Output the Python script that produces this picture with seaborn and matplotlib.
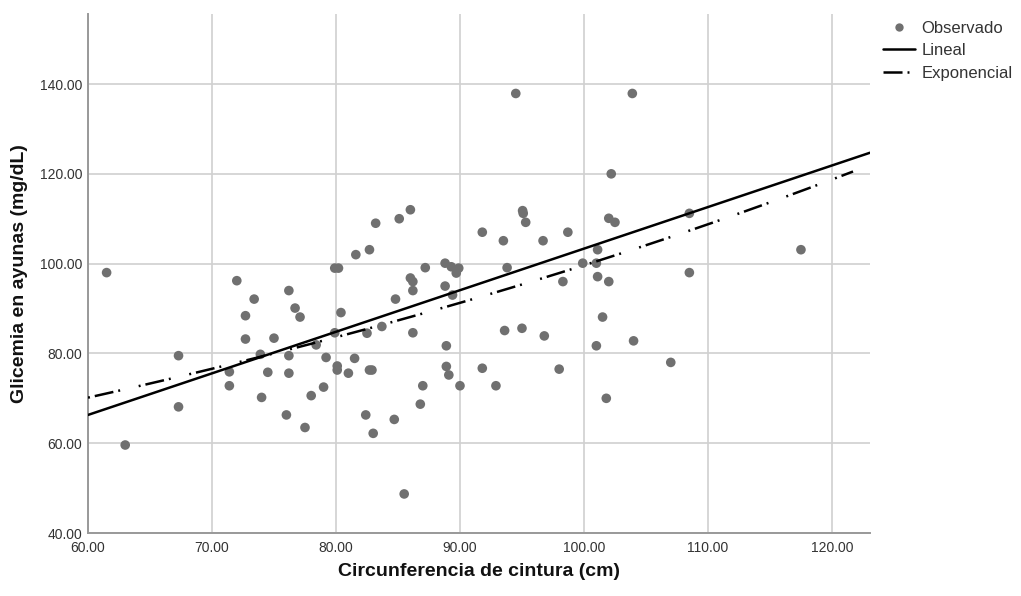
import numpy as np
import pandas as pd
import seaborn as sns
import matplotlib.pyplot as plt
from matplotlib.lines import Line2D

# waist circumference (cm) and fasting glucose (mg/dL)
cintura = [61.5, 63.0, 67.3, 67.3, 71.4, 71.4, 72.0, 72.7, 72.7, 73.4,
           73.9, 74.0, 74.5, 75.0, 76.0, 76.2, 76.2, 76.2, 76.7, 77.1,
           77.5, 78.0, 78.4, 79.0, 79.2, 79.9, 80.2, 79.9, 80.1, 80.1,
           80.4, 81.0, 81.5, 81.6, 82.4, 82.5, 82.7, 82.7, 82.9, 83.0,
           83.2, 83.7, 84.7, 84.8, 85.1, 85.5, 86.0, 86.0, 86.2, 86.2,
           86.2, 86.8, 87.0, 87.2, 88.8, 88.8, 88.9, 88.9, 89.1, 89.3,
           89.9, 89.7, 89.4, 90.0, 91.8, 91.8, 92.9, 93.5, 93.6, 93.8,
           94.5, 95.0, 95.05, 95.1, 95.3, 96.7, 96.8, 98.0, 98.3, 98.7,
           99.9, 101.0, 101.1, 101.1, 101.0, 101.5, 101.8, 102.0, 102.0, 102.2,
           102.5, 103.9, 104.0, 107.0, 108.5, 108.5, 117.5]
glicemia = [98.0, 59.6, 79.5, 68.1, 75.9, 72.8, 96.2, 88.4, 83.2, 92.1,
            79.8, 70.2, 75.8, 83.4, 66.3, 94.0, 79.5, 75.6, 90.1, 88.1,
            63.5, 70.6, 81.9, 72.5, 79.1, 99.0, 99.0, 84.6, 77.2, 76.3,
            89.1, 75.6, 78.9, 102.0, 66.3, 84.5, 103.1, 76.3, 76.3, 62.2,
            109.0, 86.0, 65.3, 92.1, 110.0, 48.7, 112.0, 96.8, 96.0, 94.0,
            84.6, 68.7, 72.8, 99.1, 100.1, 95.0, 81.7, 77.1, 75.2, 99.3,
            99.0, 97.9, 93.0, 72.8, 107.0, 76.7, 72.8, 105.1, 85.1, 99.1,
            137.9, 85.6, 111.8, 111.2, 109.2, 105.1, 83.9, 76.5, 96.0, 107.0,
            100.1, 100.1, 103.1, 97.1, 81.7, 88.1, 70.0, 110.1, 96.0, 120.0,
            109.2, 137.9, 82.8, 78.0, 111.2, 98.0, 103.1]

# fitted models
lin_b0, lin_b1 = 10.74, 0.926          # y = b0 + b1*x
exp_b0, exp_b1 = 41.45, 0.00877        # y = b0 * exp(b1*x)
lin_range = [60.0, 123.06]
exp_range = [60.0, 121.7]

xticks = [60, 70, 80, 90, 100, 110, 120]
yticks = [40, 60, 80, 100, 120, 140]

df = pd.DataFrame({'cintura': cintura, 'glicemia': glicemia})

xl = np.linspace(lin_range[0], lin_range[1], 50)
xe = np.linspace(exp_range[0], exp_range[1], 50)
fits = pd.DataFrame({'x': xl, 'lin': lin_b0 + lin_b1 * xl,
                     'xe': xe, 'exp': exp_b0 * np.exp(exp_b1 * xe)})

sns.set_theme(style='whitegrid')
plt.rcParams['font.family'] = ['Liberation Sans', 'DejaVu Sans']
plt.rcParams['lines.scale_dashes'] = False

fig = plt.figure(figsize=(10.21, 5.96), dpi=100)
ax = fig.add_axes([0.0862, 0.1057, 0.7658, 0.8708])

gray = '#707070'
sns.scatterplot(data=df, x='cintura', y='glicemia', ax=ax, color=gray,
                s=48, edgecolor='none', zorder=3)
dashdot = (0, (1.4, 3.6, 13.7, 3.6, 1.4, 13.7))
sns.lineplot(data=fits, x='x', y='lin', ax=ax, color='black', lw=1.8, zorder=4)
sns.lineplot(data=fits, x='xe', y='exp', ax=ax, color='black', lw=1.8,
             linestyle=dashdot, zorder=4)

ax.set_xlim(60, 123.06)
ax.set_ylim(40, 155.6)
ax.set_xticks(xticks)
ax.set_yticks(yticks)
ax.set_xticklabels([f'{v:.2f}' for v in xticks], fontsize=10, color='#333333')
ax.set_yticklabels([f'{v:.2f}' for v in yticks], fontsize=10, color='#333333')
ax.tick_params(axis='x', length=0, pad=6)
ax.tick_params(axis='y', length=0, pad=4)
ax.grid(True, color='#d0d0d0', lw=1.2)
for side in ['top', 'right']:
    ax.spines[side].set_visible(False)
for side in ['left', 'bottom']:
    ax.spines[side].set_color('#999999')
    ax.spines[side].set_linewidth(1.4)

ax.set_xlabel('Circunferencia de cintura (cm)', fontsize=14, fontweight='bold',
              color='#111111')
ax.set_ylabel('Glicemia en ayunas (mg/dL)', fontsize=14, fontweight='bold',
              color='#111111')
ax.xaxis.label.set_va('center')
ax.yaxis.label.set_va('center')
ax.xaxis.set_label_coords(0.5, -0.074)
ax.yaxis.set_label_coords(-0.088, 0.5)

handles = [Line2D([], [], ls='none', marker='o', ms=6, color=gray, mec='none'),
           Line2D([], [], color='black', lw=1.8),
           Line2D([], [], color='black', lw=1.8, ls=(0, (13.7, 3.6, 1.4, 13.7)))]
leg = fig.legend(handles, ['Observado', 'Lineal', 'Exponencial'],
                 loc='upper left', bbox_to_anchor=(0.8648, 0.9656), frameon=False,
                 fontsize=12, handlelength=1.9, handletextpad=0.4,
                 labelspacing=0.46, borderaxespad=0, borderpad=0)
for t in leg.get_texts():
    t.set_color('#333333')

fig.savefig('out.png', dpi=100)
